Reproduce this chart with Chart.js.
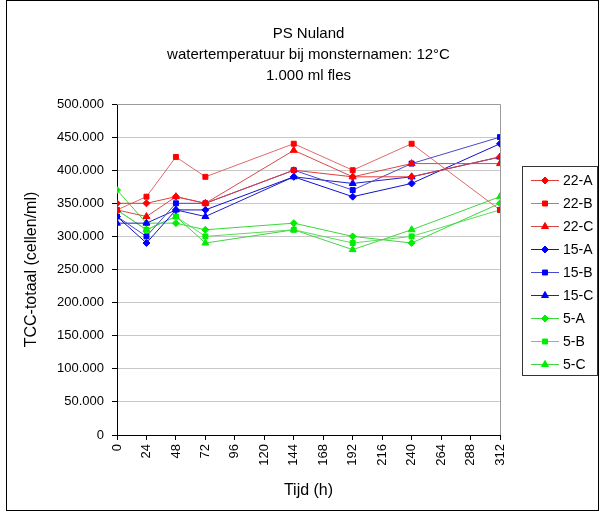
<!DOCTYPE html>
<html>
<head>
<meta charset="utf-8">
<script src="https://cdn.jsdelivr.net/npm/chart.js@4/dist/chart.umd.min.js"></script>
<style>
  html, body { margin: 0; padding: 0; background: #fff; }
  #wrap { width: 601px; height: 513px; }
</style>
</head>
<body>
<div id="wrap"><canvas id="chart" width="601" height="513"></canvas></div>
<script>
// sample times (h)
const hours = [0, 24, 48, 72, 144, 192, 240, 312];

// TCC (cells/ml) per bottle
const s22A = [350000, 350000, 360000, 350000, 400000, 390000, 390000, 420000];
const s22B = [340000, 360000, 420000, 390000, 440000, 400000, 440000, 340000];
const s22C = [340000, 330000, 360000, 350000, 430000, 390000, 410000, 410000];
const s15A = [330000, 290000, 340000, 340000, 390000, 360000, 380000, 440000];
const s15B = [330000, 300000, 350000, 350000, 400000, 370000, 410000, 450000];
const s15C = [320000, 320000, 340000, 330000, 390000, 380000, 390000, 420000];
const s5A  = [370000, 320000, 320000, 310000, 320000, 300000, 290000, 350000];
const s5B  = [340000, 310000, 330000, 300000, 310000, 290000, 300000, 340000];
const s5C  = [340000, 310000, 330000, 290000, 310000, 280000, 310000, 360000];

const xTicks = [0, 24, 48, 72, 96, 120, 144, 168, 192, 216, 240, 264, 288, 312];

const FONT = 'Liberation Sans, Arial, sans-serif';

const series = [
    { label: '22-A', data: s22A, line: '#e03c3c', mark: '#ff0000', style: 'rectRot' },
    { label: '22-B', data: s22B, line: '#e06a6a', mark: '#ff0000', style: 'rect' },
    { label: '22-C', data: s22C, line: '#d84a4a', mark: '#ff0000', style: 'triangle' },
    { label: '15-A', data: s15A, line: '#1010c8', mark: '#0000ff', style: 'rectRot' },
    { label: '15-B', data: s15B, line: '#4848d0', mark: '#0000ff', style: 'rect' },
    { label: '15-C', data: s15C, line: '#2020c0', mark: '#0000ff', style: 'triangle' },
    { label: '5-A',  data: s5A,  line: '#3ad83a', mark: '#00ee00', style: 'rectRot' },
    { label: '5-B',  data: s5B,  line: '#5adc5a', mark: '#00ee00', style: 'rect' },
    { label: '5-C',  data: s5C,  line: '#44d444', mark: '#00ee00', style: 'triangle' }
];

function pointRadius(style) {
    return style === 'triangle' ? 4 : 3.5;
}

const datasets = series.map(s => ({
    label: s.label,
    data: s.data.map((v, i) => ({ x: hours[i], y: v })),
    borderColor: s.line,
    backgroundColor: s.mark,
    pointBorderColor: s.mark,
    pointBackgroundColor: s.mark,
    pointStyle: s.style,
    pointRadius: pointRadius(s.style),
    borderWidth: 1,
    pointBorderWidth: 1,
    tension: 0
}));

function dotted(v) {
    return String(v).replace(/\B(?=(\d{3})+(?!\d))/g, '.');
}

// frame, plot-area border and legend box
const decor = {
    id: 'decor',
    beforeDatasetsDraw(chart) {
        const { ctx, chartArea: a } = chart;
        ctx.save();
        ctx.strokeStyle = '#9a9a9a';
        ctx.lineWidth = 1;
        ctx.beginPath();
        ctx.moveTo(a.left, a.top + 0.5);
        ctx.lineTo(a.right + 0.5, a.top + 0.5);
        ctx.lineTo(a.right + 0.5, a.bottom);
        ctx.stroke();
        ctx.restore();
    },
    afterDraw(chart) {
        const ctx = chart.ctx;
        ctx.save();
        ctx.strokeStyle = '#000';
        ctx.lineWidth = 1;
        ctx.strokeRect(6.5, 0.5, 592, 510);

        // legend
        const lx = 522, ly = 166, lw = 75, lh = 209;
        ctx.strokeStyle = '#333';
        ctx.strokeRect(lx + 0.5, ly + 0.5, lw, lh);
        ctx.font = '14px ' + FONT;
        ctx.textBaseline = 'middle';
        series.forEach((s, i) => {
            const y = ly + 14 + i * 23;
            ctx.strokeStyle = s.line;
            ctx.beginPath();
            ctx.moveTo(531, y + 0.5);
            ctx.lineTo(559, y + 0.5);
            ctx.stroke();
            ctx.fillStyle = s.mark;
            ctx.strokeStyle = s.mark;
            Chart.helpers.drawPoint(ctx, { pointStyle: s.style, radius: pointRadius(s.style), rotation: 0, borderWidth: 1 }, 545, y + 0.5);
            ctx.fillStyle = '#000';
            ctx.fillText(s.label, 563, y + 1);
        });
        ctx.restore();
    }
};

new Chart(document.getElementById('chart'), {
    type: 'line',
    data: { datasets },
    plugins: [decor],
    options: {
        responsive: false,
        animation: false,
        layout: { padding: { left: 10, right: 101, top: 12, bottom: 10 } },
        plugins: {
            legend: { display: false },
            tooltip: { enabled: false },
            title: {
                display: true,
                fullSize: false,
                text: ['PS Nuland', 'watertemperatuur bij monsternamen: 12°C', '1.000 ml fles'],
                color: '#000',
                font: { family: FONT, size: 15, weight: 'normal', lineHeight: 1.4 },
                padding: { top: 11, bottom: 18 }
            }
        },
        scales: {
            x: {
                type: 'linear',
                min: 0,
                max: 312,
                afterBuildTicks: scale => { scale.ticks = xTicks.map(v => ({ value: v })); },
                afterFit: scale => { scale.height = 68; },
                border: { color: '#000', width: 1 },
                grid: { drawOnChartArea: false, drawTicks: true, tickLength: 5, tickColor: '#000' },
                ticks: {
                    color: '#000',
                    font: { family: FONT, size: 13 },
                    minRotation: 90,
                    maxRotation: 90,
                    padding: 4,
                    autoSkip: false
                },
                title: {
                    display: true,
                    text: 'Tijd (h)',
                    color: '#000',
                    font: { family: FONT, size: 16 },
                    padding: { top: 0, bottom: 3 }
                }
            },
            y: {
                min: 0,
                max: 500000,
                afterFit: scale => { scale.width = 107; },
                border: { color: '#000', width: 1 },
                grid: { color: '#c8c8c8', tickLength: 5, tickColor: '#000' },
                ticks: {
                    stepSize: 50000,
                    color: '#000',
                    font: { family: FONT, size: 13 },
                    padding: 8,
                    callback: v => dotted(v)
                },
                title: {
                    display: true,
                    text: 'TCC-totaal (cellen/ml)',
                    color: '#000',
                    font: { family: FONT, size: 16 },
                    padding: { top: 12, bottom: 0 }
                }
            }
        }
    }
});
</script>
</body>
</html>
